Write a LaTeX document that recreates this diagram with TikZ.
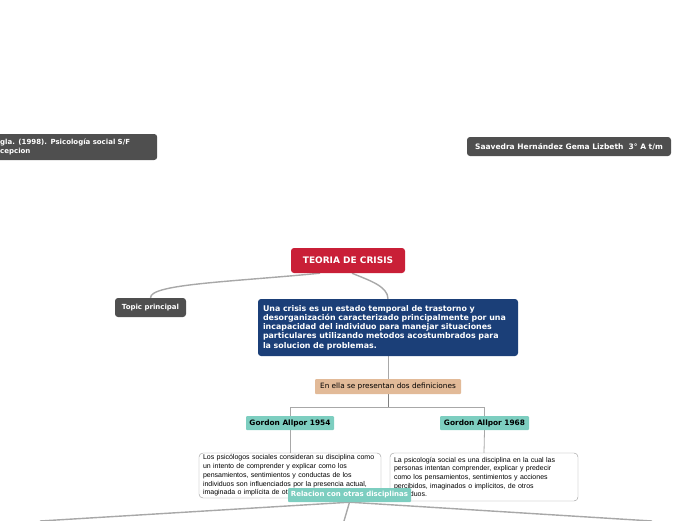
\documentclass[tikz,border=0pt]{standalone}
\usepackage{fontspec}
\setmainfont{DejaVu Sans}
\newfontfamily\notefont{Liberation Sans}
\usetikzlibrary{backgrounds}
\definecolor{darkbox}{HTML}{4F4F4F}
\definecolor{crisisred}{HTML}{C91F37}
\definecolor{deepblue}{HTML}{1B3F78}
\definecolor{tanbox}{HTML}{E2BA98}
\definecolor{tealbox}{HTML}{7DCEC0}
\definecolor{linegray}{HTML}{A8A8A8}
\begin{document}
\begin{tikzpicture}[
  x=1pt, y=-1pt,
  darknode/.style={rounded corners=3pt, fill=darkbox, text=white, inner sep=0pt,
    font=\bfseries\fontsize{7}{8.6}\selectfont},
  rootnode/.style={rounded corners=3pt, fill=crisisred, text=white, inner sep=0pt,
    minimum width=114, minimum height=25, font=\bfseries\fontsize{9}{10}\selectfont},
  bluenode/.style={rounded corners=3pt, fill=deepblue, text=white, inner sep=0pt,
    minimum width=260, minimum height=57, text width=250, align=left,
    font=\bfseries\fontsize{7.9}{9.3}\selectfont},
  tannode/.style={rounded corners=1pt, fill=tanbox, inner sep=0pt,
    minimum width=146, minimum height=15, font=\fontsize{7.3}{8}\selectfont},
  tealnode/.style={rounded corners=1pt, fill=tealbox, inner sep=0pt,
    minimum width=88, minimum height=14, font=\bfseries\fontsize{7.4}{8}\selectfont},
  notenode/.style={rounded corners=4pt, draw=gray!80, fill=white, inner sep=0pt,
    text width=#1, align=left, font=\notefont\fontsize{7}{8.7}\selectfont},
  link/.style={draw=linegray, line width=0.8pt},
  thicklink/.style={draw=linegray, line width=1.4pt}
]
  \useasboundingbox (0,0) rectangle (696,520);
  % cabecera
  \node[darknode, minimum height=26, text width=149, align=left, inner xsep=8pt,
    anchor=west] (ref) at (-8,147) {gla. (1998). Psicología social S/F\\cepcion};
  \node[darknode, minimum width=204, minimum height=19, font=\bfseries\fontsize{7.5}{9}\selectfont]
    (autor) at (569,146.5) {Saavedra Hernández Gema Lizbeth\ \ 3° A t/m};
  % tema central
  \node[rootnode] (root) at (348,260.5) {TEORIA DE CRISIS};
  \node[darknode, minimum width=71, minimum height=19] (topic) at (150.5,307.5) {Topic principal};
  \node[bluenode] (crisis) at (388,327.5) {Una crisis es un estado temporal de trastorno y\\
    desorganización caracterizado principalmente por una\\
    incapacidad del individuo para manejar situaciones\\
    particulares utilizando metodos acostumbrados para\\
    la solucion de problemas.};
  \node[tannode] (defs) at (388,386.5) {En ella se presentan dos definiciones};
  \node[tealnode] (g1) at (290,423) {Gordon Allpor 1954};
  \node[tealnode, minimum width=89] (g2) at (484.5,423) {Gordon Allpor 1968};
  \node[notenode=174, minimum width=182, minimum height=45] (def1) at (290,475.5)
    {Los psicólogos sociales consideran su disciplina como\\
     un intento de comprender y explicar como los\\
     pensamientos, sentimientos y conductas de los\\
     individuos son influenciados por la presencia actual,\\
     imaginada o implícita de otros.};
  \node[notenode=180, minimum width=188, minimum height=48] (def2) at (484,477)
    {La psicología social es una disciplina en la cual las\\
     personas intentan comprender, explicar y predecir\\
     como los pensamientos, sentimientos y acciones\\
     percibidos, imaginados o implícitos, de otros\\
     individuos.};
  \node[tealnode, minimum width=123, text=white, font=\bfseries\fontsize{7}{8}\selectfont]
    (rel) at (349.5,495) {Relacion con otras disciplinas};
  \coordinate (split) at (388,407);
  \coordinate (relA) at (40,521);
  \coordinate (relB) at (344,521);
  \coordinate (relC) at (652,521);
  % conexiones
  \begin{scope}[on background layer]
    \draw[thicklink] ([xshift=-28]root.south) .. controls (230,282) and (150,284) .. (topic.north);
    \draw[thicklink] ([xshift=4]root.south) .. controls (368,280) and (388,286) .. (crisis.north);
    \draw[link] (crisis.south) -- (defs.north);
    \draw[link, draw=gray] (defs.south) -- (split);
    \draw[link] (split) -| (g1.north);
    \draw[link] (split) -| (g2.north);
    \draw[link] (g1.south) -- (def1.north);
    \draw[link] (g2.south) -- (def2.north);
    \draw[thicklink] (rel.south) -- (relA);
    \draw[thicklink] (rel.south) -- (relB);
    \draw[thicklink] (rel.south) -- (relC);
  \end{scope}
\end{tikzpicture}
\end{document}
